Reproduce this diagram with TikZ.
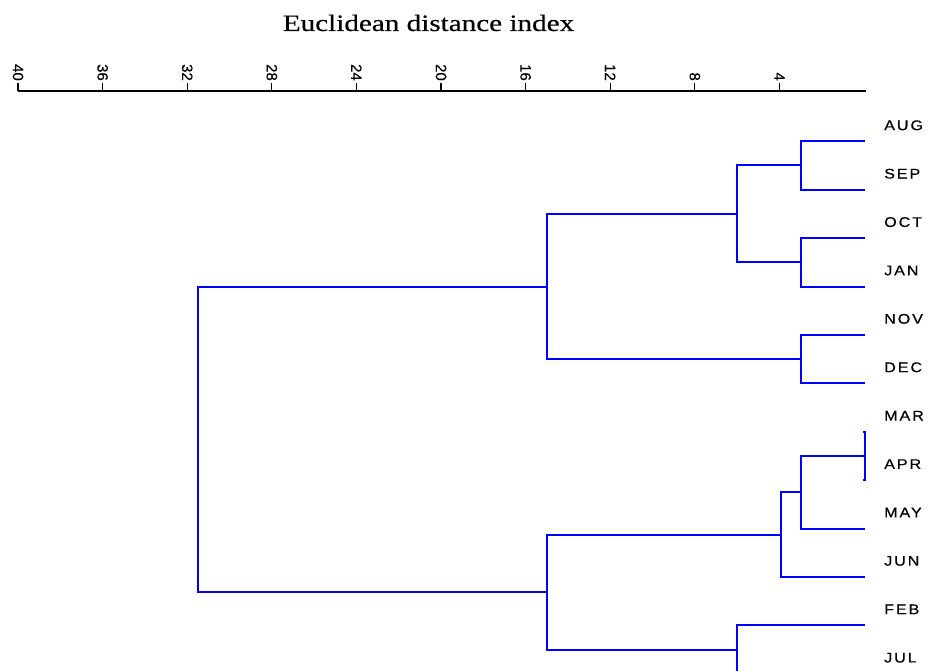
\documentclass[tikz,border=0pt]{standalone}
\usepackage{fontspec}
\setmainfont{Liberation Serif}
\newfontfamily\lsans[FakeBold=0.3]{Liberation Sans}
\newfontfamily\lsanswide[LetterSpace=12,FakeBold=0.4]{Liberation Sans}
\newfontfamily\titlefont[FakeBold=0.3]{Liberation Serif}
\begin{document}
\begin{tikzpicture}[x=1pt,y=-1pt,
  dend/.style={draw={rgb,255:red,0;green,0;blue,255}, line width=2pt, line cap=rect},
  axisline/.style={draw=black, line width=1.5pt},
  ticklab/.style={rotate=-90, anchor=east, inner sep=0pt, font=\lsans\fontsize{15}{17}\selectfont},
  leaflab/.style={anchor=west, inner sep=0pt, font=\lsanswide\fontsize{14}{16}\selectfont},
]
\useasboundingbox (0,0) rectangle (931,671);
\fill[white] (0,0) rectangle (931,671);

% title
\node[anchor=base, inner sep=0pt] (title) at (428.5,31)
  {\titlefont\fontsize{23.5}{28}\selectfont\scalebox{1.24}[1]{Euclidean distance index}};

% axis
\coordinate (axL) at (18,91);
\coordinate (axR) at (866,91);
\draw[axisline] (axL) -- (axR);
\foreach \v [count=\k from 0] in {40,36,32,28,24,20,16,12,8,4} {
  \coordinate (tk\k) at ({18+84.6*\k},91);
  \coordinate (tt\k) at ({18+84.6*\k},83);
  \draw[axisline, line width=1.3pt] (tk\k) -- (tt\k);
  \node[ticklab] (tl\k) at ({18+84.6*\k},81) {\v};
}

% leaves
\foreach \n/\i in {AUG/0,SEP/1,OCT/2,JAN/3,NOV/4,DEC/5,MAR/6,APR/7,MAY/8,JUN/9,FEB/10,JUL/11} {
  \coordinate (l\n) at (864,{141.3+48.4*\i});
  \node[leaflab] (t\n) at (884,{141.3+48.4*\i-16}) {\scalebox{1.15}[1]{\n}};
}

% merge points
\coordinate (mAS)   at (801,165.5);
\coordinate (mOJ)   at (801,262.3);
\coordinate (mASOJ) at (737,213.9);
\coordinate (mND)   at (801,359.1);
\coordinate (mTop)  at (546.7,286.5);
\coordinate (mMA)   at (864.5,455.9);
\coordinate (mMAM)  at (801,492.2);
\coordinate (mMAMJ) at (781,534.5);
\coordinate (mFJ)   at (736.7,649.5);
\coordinate (mBot)  at (546.7,592);
\coordinate (mRoot) at (197.5,439.3);

% dendrogram
\draw[dend] (lAUG) -| (mAS) |- (lSEP);
\draw[dend] (lOCT) -| (mOJ) |- (lJAN);
\draw[dend] (mAS) -| (mASOJ) |- (mOJ);
\draw[dend] (lNOV) -| (mND) |- (lDEC);
\draw[dend] (mASOJ) -| (mTop) |- (mND);
\draw[dend] (lMAR) -| (mMA) |- (lAPR);
\draw[dend] (mMA) -| (mMAM) |- (lMAY);
\draw[dend] (mMAM) -| (mMAMJ) |- (lJUN);
\draw[dend] (lFEB) -| (mFJ) |- (lJUL);
\draw[dend] (mMAMJ) -| (mBot) |- (mFJ);
\draw[dend] (mTop) -| (mRoot) |- (mBot);
\end{tikzpicture}
\end{document}
